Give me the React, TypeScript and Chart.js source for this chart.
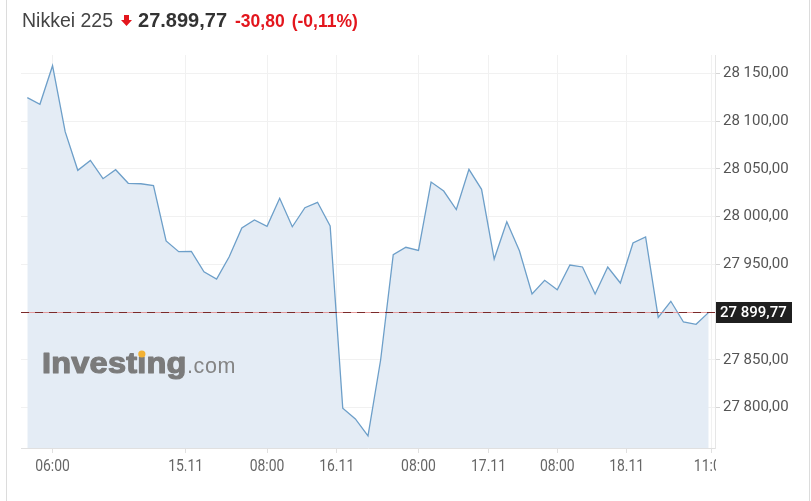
import React, { useEffect, useRef } from "react";
import { Chart, registerables } from "chart.js";

Chart.register(...registerables);

// ---- data ----
const prices: number[] = [
  28124.5, 28117.6, 28158.0, 28088.9, 28048.5, 28058.9, 28039.7, 28049.1, 28034.9, 28034.4,
  28032.4, 27974.5, 27963.3, 27963.7, 27942.3, 27934.7, 27958.0, 27988.1, 27996.5, 27989.9,
  28019.2, 27989.4, 28009.3, 28015.0, 27990.2, 27799.4, 27788.2, 27770.4, 27849.9, 27960.1,
  27967.9, 27964.7, 28036.2, 28026.8, 28007.4, 28049.5, 28028.6, 27955.6, 27994.7, 27964.3,
  27919.0, 27933.3, 27923.5, 27949.3, 27947.3, 27919.0, 27947.3, 27930.5, 27972.4, 27978.7,
  27894.6, 27911.4, 27889.7, 27887.3, 27899.77,
];
const xTickPositions: number[] = [2, 12.55, 19, 24.52, 31, 36.55, 42, 47.5, 54.2];
const xTickLabels: string[] = ["06:00", "15.11", "08:00", "16.11", "08:00", "17.11", "08:00", "18.11", "11:00"];
const yTickValues: number[] = [27800, 27850, 27900, 27950, 28000, 28050, 28100, 28150];
const lastPrice = 27899.77;
const instrumentName = "Nikkei 225";
const lastPriceText = "27.899,77";
const changeText = "-30,80";
const changePctText = "(-0,11%)";

function fmt(v: number): string {
  const [i, d] = v.toFixed(2).split(".");
  return i.replace(/\B(?=(\d{3})+(?!\d))/g, " ") + "," + d;
}

const overlayPlugin = {
  id: "overlay",
  afterDatasetsDraw(chart: any) {
    const { ctx, chartArea, scales } = chart;
    const y = scales.y;
    // watermark
    ctx.save();
    ctx.textBaseline = "alphabetic";
    ctx.textAlign = "left";
    const bx = 42;
    const by = 373;
    const sx = 1.12;
    ctx.save();
    ctx.translate(bx, by);
    ctx.scale(sx, 1);
    ctx.fillStyle = "#7b7b7b";
    ctx.strokeStyle = "#7b7b7b";
    ctx.lineWidth = 1.2;
    ctx.lineJoin = "round";
    ctx.font = 'bold 29px "Liberation Sans", Arial, sans-serif';
    (ctx as any).letterSpacing = "0.2px";
    const w1 = ctx.measureText("Invest").width;
    const wi = ctx.measureText("\u0131").width;
    ctx.fillText("Invest\u0131ng", 0, 0);
    ctx.strokeText("Invest\u0131ng", 0, 0);
    ctx.restore();
    ctx.fillStyle = "#f2b134";
    ctx.beginPath();
    ctx.arc(bx + (w1 + wi / 2) * sx, by - 19, 3.6, 0, Math.PI * 2);
    ctx.fill();
    (ctx as any).letterSpacing = "0.6px";
    ctx.fillStyle = "#848484";
    ctx.font = '21.5px "Liberation Sans", Arial, sans-serif';
    ctx.fillText(".com", 187, by);
    ctx.restore();

    // last price dashed line
    const py = Math.round(y.getPixelForValue(lastPrice)) + 0.5;
    ctx.save();
    ctx.strokeStyle = "rgba(226,120,120,0.7)";
    ctx.lineWidth = 1;
    ctx.beginPath();
    ctx.moveTo(chartArea.left, py);
    ctx.lineTo(chartArea.right, py);
    ctx.stroke();
    ctx.strokeStyle = "#7a2a2a";
    ctx.setLineDash([8, 6]);
    ctx.beginPath();
    ctx.moveTo(chartArea.left, py);
    ctx.lineTo(chartArea.right, py);
    ctx.stroke();
    ctx.restore();
  },
  afterDraw(chart: any) {
    const { ctx, chartArea, scales } = chart;
    const x = scales.x;
    const y = scales.y;
    // x labels, clipped at the plot's right edge
    ctx.save();
    ctx.beginPath();
    ctx.rect(0, chartArea.bottom + 1, chartArea.right + 1, 60);
    ctx.clip();
    ctx.fillStyle = "#666";
    ctx.font = '17px Roboto, sans-serif';
    ctx.textAlign = "center";
    ctx.textBaseline = "middle";
    xTickPositions.forEach((v, i) => {
      const px = x.getPixelForValue(v);
      ctx.save();
      ctx.translate(px, chartArea.bottom + 19);
      ctx.scale(0.82, 1);
      ctx.fillText(xTickLabels[i], 0, 0);
      ctx.restore();
    });
    ctx.restore();

    // last price box
    const py = y.getPixelForValue(lastPrice);
    ctx.save();
    ctx.fillStyle = "#1f1f1f";
    ctx.fillRect(chartArea.right + 1, Math.round(py) - 10, 76, 21);
    ctx.fillStyle = "#ffffff";
    ctx.font = '500 15px Roboto, sans-serif';
    ctx.textAlign = "left";
    ctx.textBaseline = "middle";
    ctx.fillText(fmt(lastPrice), chartArea.right + 5, Math.round(py) + 1);
    ctx.restore();
  },
};

export default function App() {
  const ref = useRef<HTMLCanvasElement | null>(null);
  useEffect(() => {
    if (!ref.current) return;
    const chart = new Chart(ref.current, {
      type: "line",
      data: {
        datasets: [
          {
            data: prices.map((p, i) => ({ x: i, y: p })),
            borderColor: "#6d9fc9",
            borderWidth: 1.3,
            backgroundColor: "#e4ecf5",
            fill: "start",
            pointRadius: 0,
            tension: 0,
          },
        ],
      },
      options: {
        animation: false,
        responsive: false,
        maintainAspectRatio: false,
        layout: { padding: { left: 21, top: 55, right: 0, bottom: 0 } },
        plugins: { legend: { display: false }, tooltip: { enabled: false } },
        scales: {
          x: {
            type: "linear",
            min: -0.5,
            max: 54.5,
            afterBuildTicks: (s: any) => {
              s.ticks = xTickPositions.map((v) => ({ value: v }));
            },
            afterFit: (s: any) => {
              s.height = 53;
            },
            grid: { color: "#f1f1f1", tickColor: "#e0e0e0", tickLength: 5, drawTicks: true },
            border: { color: "#e0e0e0" },
            ticks: { color: "rgba(0,0,0,0)", autoSkip: false, maxRotation: 0 },
          },
          y: {
            position: "right",
            min: 27757.8,
            max: 28169.2,
            afterBuildTicks: (s: any) => {
              s.ticks = yTickValues.map((v) => ({ value: v }));
            },
            afterFit: (s: any) => {
              s.width = 96;
            },
            grid: { color: "#f1f1f1", tickColor: "#d6d6d6", tickLength: 5 },
            border: { color: "#e6e6e6" },
            ticks: {
              color: "#555",
              padding: 3,
              font: { family: "Roboto, sans-serif", size: 15 },
              callback: (v: any) => fmt(Number(v)),
            },
          },
        },
      },
      plugins: [overlayPlugin],
    });
    return () => chart.destroy();
  }, []);

  return (
    <div style={{ position: "absolute", left: 0, top: 0, width: 811, height: 501, background: "#fff", overflow: "hidden" }}>
      <div style={{ position: "absolute", left: 6, top: 0, width: 802, height: 501, borderLeft: "1px solid #dcdcdc", borderRight: "1px solid #dcdcdc" }} />
      <canvas ref={ref} width={811} height={501} style={{ position: "absolute", left: 0, top: 0, width: 811, height: 501 }} />
      <div
        style={{
          position: "absolute",
          left: 22,
          top: 9,
          display: "flex",
          alignItems: "baseline",
          fontFamily: '"Liberation Sans", Arial, sans-serif',
          whiteSpace: "nowrap",
        }}
      >
        <span style={{ fontSize: 19.5, color: "#444" }}>{instrumentName}</span>
        <svg width="11" height="12" viewBox="0 0 11 12" style={{ marginLeft: 8, marginRight: 6 }}>
          <path d="M3 0 H8 V5 H11 L5.5 11 L0 5 H3 Z" fill="#e3161d" />
        </svg>
        <span style={{ fontSize: 20, fontWeight: "bold", color: "#333" }}>{lastPriceText}</span>
        <span style={{ fontSize: 17.5, fontWeight: "bold", color: "#e3161d", marginLeft: 8 }}>{changeText}</span>
        <span style={{ fontSize: 17.5, fontWeight: "bold", color: "#e3161d", marginLeft: 7 }}>{changePctText}</span>
      </div>
    </div>
  );
}
